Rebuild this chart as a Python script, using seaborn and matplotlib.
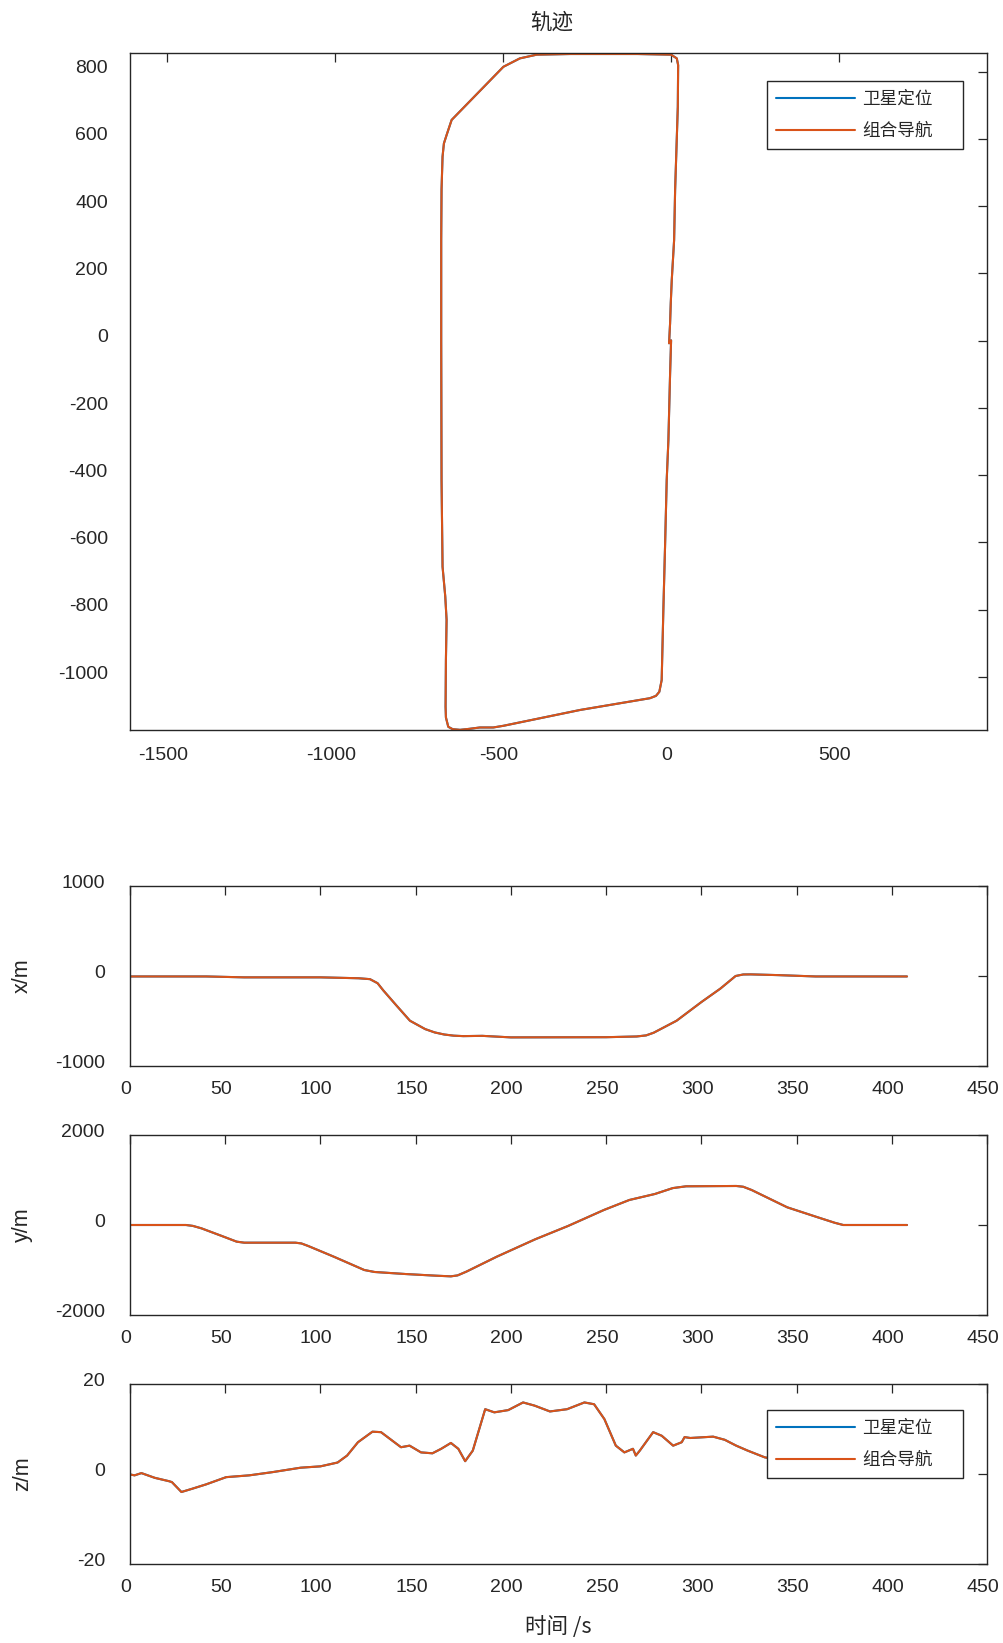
import numpy as np
import pandas as pd
import matplotlib.pyplot as plt
import matplotlib.transforms as mtransforms
import seaborn as sns

# ------------------------------------------------------------------
# Datos
# ------------------------------------------------------------------
# Trayectoria (x, y) en metros, recorrida desde el punto de salida (0, 0)
traj_x = [0, -3, -8, -13, -18, -23, -28, -35, -45, -63, -271, -499, -529,
          -569, -600, -628, -650, -663, -670, -671, -670, -668, -672, -680,
          -683, -684, -684, -683, -680, -676, -668, -653, -499, -450, -400,
          -300, -100, 0, 17, 21, 20, 12, 9, 2, -1, -3, -6, 0]
traj_y = [0, -100, -296, -414, -613, -800, -1009, -1044, -1056, -1063, -1098,
          -1145, -1150, -1150, -1154, -1157, -1155, -1148, -1120, -1088, -950,
          -830, -760, -672, -415, 0, 299, 450, 547, 586, 611, 656, 814, 839,
          850, 852, 852, 850, 839, 819, 695, 448, 299, 180, 111, 51, -8, 0]

# Series temporales
t_x = [0, 40, 60, 100, 120, 126, 130, 133, 140, 147, 155, 160, 165, 170, 175,
       185, 200, 250, 266, 271, 275, 287, 300, 310, 318, 322, 326, 340, 360,
       380, 408]
val_x = [-5, -5, -15, -15, -25, -35, -80, -160, -330, -497, -590, -627, -650,
         -663, -668, -665, -682, -680, -672, -660, -630, -497, -290, -140, 0,
         17, 18, 10, -5, -5, -5]

t_y = [0, 29.4, 33, 37.5, 48.2, 56, 60, 86.9, 90, 93.6, 107, 123, 128.4,
       144.5, 160.5, 168.5, 172, 176.6, 192.6, 212.7, 230, 248.8, 262.2,
       275.6, 285, 292, 318.4, 322, 326.4, 345.1, 361.2, 370, 374.5, 408]
val_y = [0, 0, -20, -74, -244, -370, -393, -393, -410, -467, -704, -1000,
         -1044, -1089, -1126, -1141, -1120, -1037, -704, -319, -22, 333, 556,
         689, 820, 860, 867, 850, 778, 393, 170, 50, 0, 0]

t_z = [0, 2.4, 6, 13, 20.5, 22, 27, 32.5, 40, 50.5, 62.6, 74.6, 89.6, 100,
       109, 114, 119.7, 127.3, 131.8, 142.3, 146.8, 152.8, 158.8, 163.4, 168.5,
       172.4, 176, 180, 186.5, 191.3, 198.6, 206.4, 212.4, 220.5, 229.5, 238.6,
       243.7, 249.1, 255.1, 259.6, 264.1, 265.6, 267.7, 274.7, 279.2, 285.2,
       289.7, 291.2, 294.2, 306.2, 312.3, 318.3, 324.3, 333.3, 345, 360, 380,
       408]
val_z = [-0.1, -0.3, 0.2, -0.85, -1.6, -1.8, -4.0, -3.3, -2.3, -0.7, -0.3, 0.4,
         1.4, 1.7, 2.55, 4.1, 7.06, 9.4, 9.3, 5.95, 6.3, 4.8, 4.6, 5.6, 6.9,
         5.6, 2.85, 5.2, 14.4, 13.7, 14.2, 15.9, 15.2, 13.9, 14.4, 15.9, 15.5,
         12.2, 6.3, 4.8, 5.6, 4.1, 5.2, 9.3, 8.5, 6.3, 7.06, 8.2, 8.0, 8.3, 7.6,
         6.3, 5.2, 3.7, 2.8, 1.6, 0.6, 0.0]

series_names = ['卫星定位', '组合导航']
colors = ['#0072BD', '#D95319']

# ------------------------------------------------------------------
# Estilo
# ------------------------------------------------------------------
sns.set_theme(style='white')
plt.rcParams['font.family'] = ['Liberation Sans', 'Noto Sans CJK SC', 'DejaVu Sans']
plt.rcParams['axes.unicode_minus'] = False
CJK = ['Noto Sans CJK SC', 'DejaVu Sans']
EDGE = '#262626'
TICK_SIZE = 14

fig = plt.figure(figsize=(10.04, 16.43), dpi=100)
W, H = 1004, 1643


def add_axes(left, top, right, bottom):
    return fig.add_axes([left / W, 1 - bottom / H, (right - left) / W, (bottom - top) / H])


def style_axes(ax, xpad=11, ypad=16):
    for sp in ax.spines.values():
        sp.set_color(EDGE)
        sp.set_linewidth(1.0)
    ax.tick_params(direction='in', length=6.3, width=0.9, color=EDGE,
                   top=True, right=True, labelsize=TICK_SIZE, labelcolor='#262626')
    ax.tick_params(axis='x', pad=xpad)
    ax.tick_params(axis='y', pad=ypad)
    # Desplazamiento ligero de etiquetas como en MATLAB
    dx = mtransforms.ScaledTranslation(-3 / 72, 0, fig.dpi_scale_trans)
    dy = mtransforms.ScaledTranslation(0, 3.5 / 72, fig.dpi_scale_trans)
    for lab in ax.get_xticklabels():
        lab.set_transform(lab.get_transform() + dx)
    for lab in ax.get_yticklabels():
        lab.set_transform(lab.get_transform() + dy)


def draw_pair(ax, xs, ys):
    df = pd.DataFrame({'a': xs, 'b': ys})
    for name, c in zip(series_names, colors):
        sns.lineplot(data=df, x='a', y='b', ax=ax, sort=False, estimator=None,
                     color=c, linewidth=1.5, label=name)
    ax.set_xlabel('')
    ax.set_ylabel('')


def add_legend(ax, top):
    # caja ancha con hueco a la derecha, al estilo MATLAB
    leg = ax.legend(loc='upper left', bbox_to_anchor=(0.7433, 0, 0.2287, top),
                    mode='expand', borderaxespad=0, frameon=True, fancybox=False,
                    framealpha=1, prop={'family': CJK, 'size': 12.7},
                    handlelength=4.5, handletextpad=0.4, labelspacing=0.8,
                    borderpad=0.5)
    leg.get_frame().set_edgecolor(EDGE)
    leg.get_frame().set_linewidth(1.0)
    return leg


# ------------------------------------------------------------------
# Trayectoria
# ------------------------------------------------------------------
ax1 = add_axes(130, 53, 987, 730)
draw_pair(ax1, traj_x, traj_y)
ax1.set_xlim(-1610, 940)
ax1.set_ylim(-1157.5, 855)
ax1.set_xticks([-1500, -1000, -500, 0, 500])
ax1.set_yticks([-1000, -800, -600, -400, -200, 0, 200, 400, 600, 800])
add_legend(ax1, 0.9586)
style_axes(ax1, xpad=12, ypad=16)
fig.text(552 / W, 1 - 23 / H, '轨迹', family=CJK, fontsize=15.5,
         color='#262626', ha='center', va='center')

# ------------------------------------------------------------------
# Series x, y, z frente al tiempo
# ------------------------------------------------------------------
panels = [
    (886, 1066, t_x, val_x, [-1000, 0, 1000], 'x/m'),
    (1135, 1315, t_y, val_y, [-2000, 0, 2000], 'y/m'),
    (1384, 1564, t_z, val_z, [-20, 0, 20], 'z/m'),
]
axes = []
for top, bottom, tt, vv, yt, lab in panels:
    ax = add_axes(130, top, 987, bottom)
    draw_pair(ax, tt, vv)
    ax.set_xlim(0, 450)
    ax.set_ylim(yt[0], yt[-1])
    ax.set_xticks(np.arange(0, 451, 50))
    ax.set_yticks(yt)
    ax.set_ylabel(lab, fontsize=15.5, color='#262626', va='center')
    ax.yaxis.set_label_coords(-107.5 / 857, 0.5)
    if ax.get_legend() is not None:
        ax.get_legend().remove()
    style_axes(ax, xpad=11, ypad=18)
    axes.append(ax)

add_legend(axes[2], 0.856)
axes[2].set_xlabel('时间 /s', family=CJK, fontsize=15.5, color='#262626')
axes[2].xaxis.set_label_coords(0.5, -0.35)
axes[2].xaxis.label.set_va('center')

fig.savefig('out.png', dpi=100)
plt.close(fig)
